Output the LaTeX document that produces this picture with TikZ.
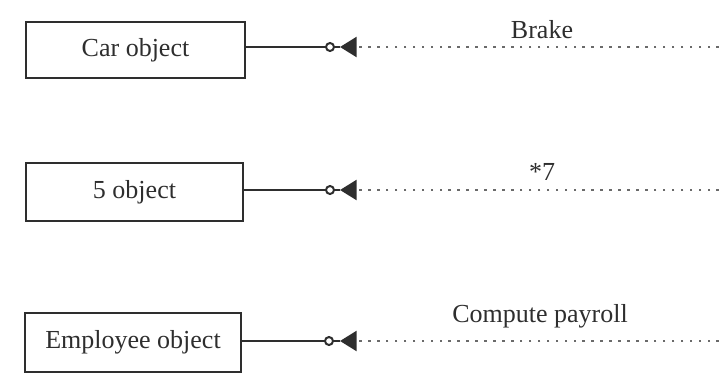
\documentclass[tikz,border=0pt]{standalone}
\usepackage{fontspec}
\setmainfont{Liberation Serif}
\usetikzlibrary{arrows.meta}
\definecolor{ink}{HTML}{2E2E2E}
\definecolor{dotink}{HTML}{6A6A6A}
\tikzset{
  x=0.75pt, y=-0.75pt,
  objbox/.style={draw=ink, line width=1.9pt, minimum width=165pt, minimum height=42pt, inner sep=0pt,
    text=ink, font=\fontsize{19.5}{22}\selectfont},
  msglabel/.style={text=ink, font=\fontsize{19.5}{22}\selectfont, inner sep=0pt},
  solidline/.style={draw=ink, line width=1.7pt},
  ocircle/.style={circle, draw=ink, line width=1.5pt, fill=white, minimum size=6pt, inner sep=0pt},
  dotline/.style={draw=dotink, line width=1.9pt, dash pattern=on 1.9pt off 4.8pt,
    -{Triangle[length=12.5pt, width=15pt, fill=ink, color=ink]}},
}
\begin{document}
\begin{tikzpicture}
\useasboundingbox (0,0) rectangle (719,379);
% row 1
\node[objbox, minimum width=164pt, minimum height=42pt] (car) at (135.5,50) {Car object};
\coordinate (t1) at (340,47);
\coordinate (e1) at (719,47);
\node[ocircle] (c1) at (330,47) {};
\draw[solidline] (car.east |- c1) -- (c1.west);
\draw[solidline] (c1.east) -- (t1);
\draw[dotline] (e1) -- (t1);
\node[msglabel] (l1) at (542,30) {Brake};
% row 2
\node[objbox, minimum width=163pt, minimum height=43.5pt] (five) at (134.5,192) {5 object};
\coordinate (t2) at (340,190);
\coordinate (e2) at (719,190);
\node[ocircle] (c2) at (330,190) {};
\draw[solidline] (five.east |- c2) -- (c2.west);
\draw[solidline] (c2.east) -- (t2);
\draw[dotline] (e2) -- (t2);
\node[msglabel] (l2) at (542,172) {*7};
% row 3
\node[objbox, minimum width=162pt, minimum height=44pt] (emp) at (133,342.5) {Employee object};
\coordinate (t3) at (340,341);
\coordinate (e3) at (719,341);
\node[ocircle] (c3) at (329,341) {};
\draw[solidline] (emp.east |- c3) -- (c3.west);
\draw[solidline] (c3.east) -- (t3);
\draw[dotline] (e3) -- (t3);
\node[msglabel] (l3) at (540,316) {Compute payroll};
\end{tikzpicture}
\end{document}
